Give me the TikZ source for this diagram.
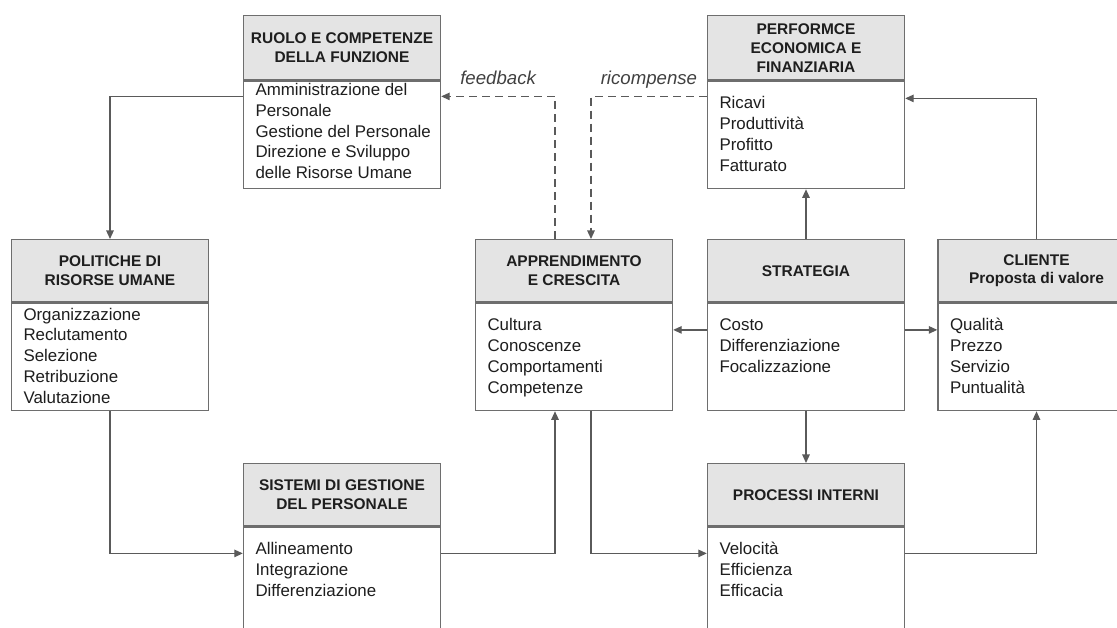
\documentclass[tikz,border=0pt]{standalone}
\usepackage{fontspec}
\setmainfont{Liberation Sans}
\usepackage{xcolor}
\usetikzlibrary{arrows.meta}

\definecolor{bordo}{HTML}{6E6E6E}
\definecolor{linea}{HTML}{5A5A5A}
\definecolor{grigiochiaro}{HTML}{E4E4E4}
\definecolor{testo}{HTML}{1E1E1E}

% list of items inside the lower part of a box
\newcommand{\voci}[3][2.15cm]{%
  \begin{minipage}[t][#1][t]{3.94cm}%
    \fontsize{9.6}{11.8}\selectfont\vspace*{#2}%
    \raggedright\leftskip=0.24cm\strut#3%
  \end{minipage}}

\tikzset{
  testa/.style={draw=bordo, line width=0.8pt, fill=grigiochiaro, minimum width=3.94cm,
    minimum height=1.24cm, inner sep=0pt, align=center, anchor=north, text=testo,
    font=\fontsize{8.8}{10.8}\selectfont\bfseries},
  corpo/.style={draw=bordo, line width=0.8pt, fill=white, inner sep=0pt, anchor=north, text=testo},
  freccia/.style={draw=linea, line width=0.7pt, -{Triangle[length=0.17cm,width=0.15cm]}},
  ritorno/.style={freccia, dash pattern=on 0.16cm off 0.1cm},
  etichetta/.style={font=\fontsize{10.6}{12}\selectfont\itshape, text=black!75, anchor=base, yshift=0.24cm}
}

\begin{document}
\begin{tikzpicture}[x=1cm,y=1cm]
  \useasboundingbox (0,0) rectangle (22.34,12.56);
  \clip (0,0) rectangle (22.34,12.56);
  % top row
  \node[testa, minimum height=1.28cm] (ruoloH) at (6.84,12.26) {RUOLO E COMPETENZE\\DELLA FUNZIONE};
  \node[corpo] (ruolo) at (ruoloH.south) {\voci{0pt}{Amministrazione del\\Personale\\Gestione del Personale\\Direzione e Sviluppo\\delle Risorse Umane}};
  \node[testa, minimum height=1.28cm] (performceH) at (16.12,12.26) {PERFORMCE\\ECONOMICA E\\FINANZIARIA};
  \node[corpo] (performce) at (performceH.south) {\voci{7.6pt}{Ricavi\\Produttività\\Profitto\\Fatturato}};
  % middle row
  \node[testa] (politicheH) at (2.20,7.78) {POLITICHE DI\\RISORSE UMANE};
  \node[corpo] (politiche) at (politicheH.south) {\voci{1.4pt}{Organizzazione\\Reclutamento\\Selezione\\Retribuzione\\Valutazione}};
  \node[testa] (apprendimentoH) at (11.48,7.78) {APPRENDIMENTO\\E CRESCITA};
  \node[corpo] (apprendimento) at (apprendimentoH.south) {\voci{7.6pt}{Cultura\\Conoscenze\\Comportamenti\\Competenze}};
  \node[testa] (strategiaH) at (16.12,7.78) {STRATEGIA};
  \node[corpo] (strategia) at (strategiaH.south) {\voci{7.6pt}{Costo\\Differenziazione\\Focalizzazione}};
  \node[testa] (clienteH) at (20.73,7.78) {CLIENTE\\Proposta di valore};
  \node[corpo] (cliente) at (clienteH.south) {\voci{7.6pt}{Qualità\\Prezzo\\Servizio\\Puntualità}};
  % bottom row
  \node[testa] (sistemiH) at (6.84,3.30) {SISTEMI DI GESTIONE\\DEL PERSONALE};
  \node[corpo] (sistemi) at (sistemiH.south) {\voci[2.6cm]{7.6pt}{Allineamento\\Integrazione\\Differenziazione}};
  \node[testa] (processiH) at (16.12,3.30) {PROCESSI INTERNI};
  \node[corpo] (processi) at (processiH.south) {\voci[2.6cm]{7.6pt}{Velocità\\Efficienza\\Efficacia}};

  % connectors
  \draw[freccia] ([yshift=-0.32cm]ruolo.north west) -| (politicheH.north);
  \draw[freccia] (politiche.south) |- ([yshift=-0.54cm]sistemi.north west);
  \draw[freccia] ([yshift=-0.54cm]sistemi.north east) -| ([xshift=-0.38cm]apprendimento.south);
  \draw[freccia] ([xshift=0.34cm]apprendimento.south) |- ([yshift=-0.54cm]processi.north west);
  \draw[freccia] ([yshift=-0.54cm]processi.north east) -| (cliente.south);
  \draw[freccia] (clienteH.north) |- ([yshift=-0.36cm]performce.north east);
  \draw[freccia] (strategiaH.north) -- (performce.south);
  \draw[freccia] (strategia.south) -- (processiH.north);
  \draw[freccia] ([yshift=-0.55cm]strategia.north west) -- ([yshift=-0.55cm]apprendimento.north east);
  \draw[freccia] ([yshift=-0.55cm]strategia.north east) -- ([yshift=-0.55cm]cliente.north west);
  \draw[ritorno] ([xshift=-0.38cm]apprendimentoH.north) |- ([yshift=-0.32cm]ruolo.north east)
    node[etichetta, pos=0.75] (feedback) {feedback};
  \draw[ritorno] ([yshift=-0.32cm]performce.north west) -| ([xshift=0.34cm]apprendimentoH.north)
    node[etichetta, pos=0.25] (ricompense) {ricompense};
\end{tikzpicture}
\end{document}
